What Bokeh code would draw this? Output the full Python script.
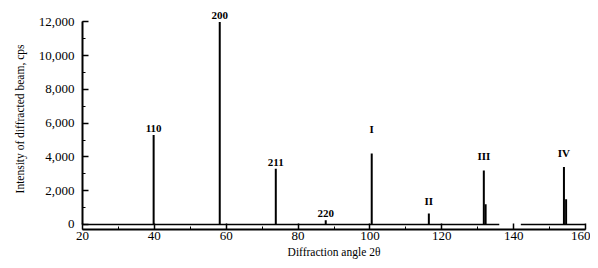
from bokeh.plotting import figure
from bokeh.models import ColumnDataSource, FixedTicker, Range1d
from bokeh.core.properties import value
from bokeh.embed import file_html
from bokeh.resources import INLINE

# Data
peak_angle = [39.8, 58.2, 73.8, 87.7, 100.5, 116.4, 131.7, 132.2, 154.0, 154.6]
peak_height = [5300, 12000, 3300, 250, 4200, 650, 3200, 1200, 3400, 1500]
label_angle = [39.8, 58.2, 73.8, 87.7, 100.5, 116.4, 131.7, 154.0]
label_height = [5500, 12150, 3450, 450, 5300, 1050, 3700, 3900]
label_text = ["110", "200", "211", "220", "I", "II", "III", "IV"]
base_start = [20, 142]
base_end = [136, 160]
x_ticks = [20, 40, 60, 80, 100, 120, 140, 160]
y_ticks = [0, 2000, 4000, 6000, 8000, 10000, 12000]
y_tick_labels = ["0", "2,000", "4,000", "6,000", "8,000", "10,000", "12,000"]

FONT = "Liberation Serif"

p = figure(width=590, height=260, output_backend="svg", toolbar_location=None,
           x_range=Range1d(20, 160), y_range=Range1d(-300, 12800),
           min_border_left=82, min_border_right=5, min_border_top=8, min_border_bottom=5)
p.outline_line_color = None
p.grid.visible = False
p.background_fill_color = "white"

peaks = ColumnDataSource(dict(x=peak_angle, y=peak_height, y0=[0] * len(peak_angle)))
p.segment(x0="x", y0="y0", x1="x", y1="y", source=peaks, line_color="black", line_width=2)

base = ColumnDataSource(dict(x0=base_start, x1=base_end, y=[0, 0]))
p.segment(x0="x0", y0="y", x1="x1", y1="y", source=base, line_color="black", line_width=1.5)

labels = ColumnDataSource(dict(x=label_angle, y=label_height, t=label_text))
p.text(x="x", y="y", text="t", source=labels, text_font=value(FONT),
       text_font_size="11px", text_align="center", text_baseline="bottom",
       text_color="black", text_font_style="bold")

xa = p.xaxis[0]
xa.bounds = (20, 160)
xa.ticker = FixedTicker(ticks=x_ticks, minor_ticks=list(range(20, 161, 10)))
xa.axis_label = "Diffraction angle 2θ"
ya = p.yaxis[0]
ya.bounds = (0, 12000)
ya.ticker = FixedTicker(ticks=y_ticks, minor_ticks=list(range(0, 12001, 1000)))
ya.major_label_overrides = {t: l for t, l in zip(y_ticks, y_tick_labels)}
ya.axis_label = "Intensity of diffracted beam, cps"

for ax in (xa, ya):
    ax.axis_line_width = 2
    ax.axis_line_color = "black"
    ax.major_tick_in = 6
    ax.major_tick_out = 0
    ax.minor_tick_in = 3
    ax.minor_tick_out = 0
    ax.major_tick_line_width = 1.5
    ax.major_label_text_font = FONT
    ax.major_label_text_font_size = "13px"
    ax.major_label_text_color = "black"
    ax.axis_label_text_font = FONT
    ax.axis_label_text_font_size = "11.5px"
    ax.axis_label_text_font_style = "normal"
    ax.axis_label_text_color = "black"
xa.major_label_standoff = 2
xa.axis_label_standoff = 3
ya.major_label_standoff = 8
ya.axis_label_standoff = 10

open("out.html", "w").write(file_html(p, INLINE))
